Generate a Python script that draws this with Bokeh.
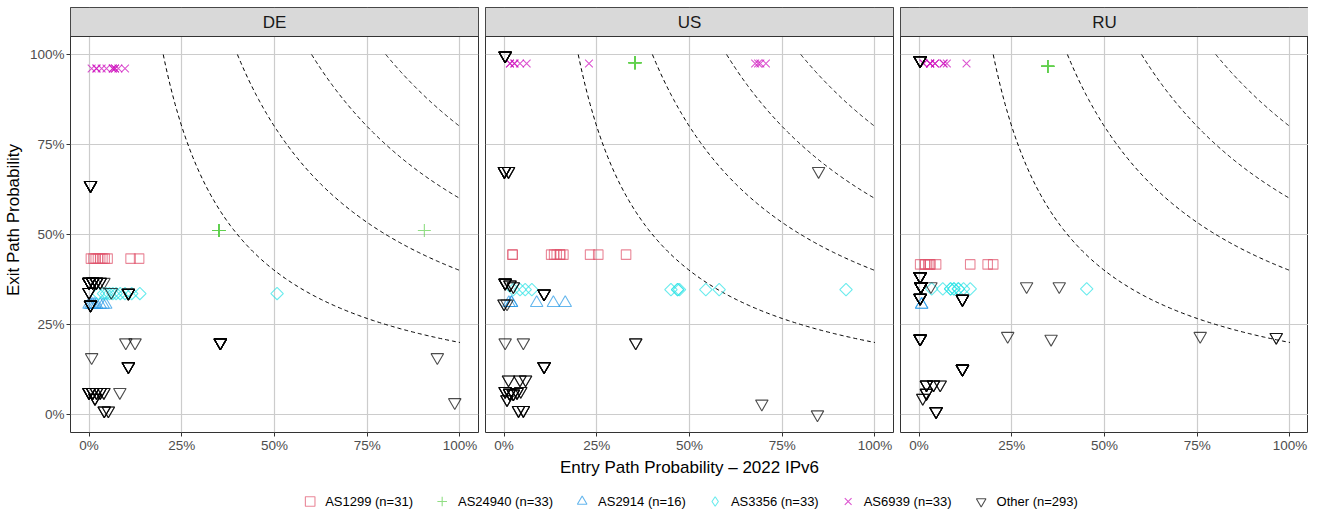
import numpy as np
from bokeh.plotting import figure
from bokeh.layouts import column, row
from bokeh.models import (Range1d, FixedTicker, NumeralTickFormatter, BoxAnnotation,
                          Label, Legend, LegendItem)
from bokeh.embed import file_html
from bokeh.resources import INLINE

# ---------------- data ----------------
panels = ["DE", "US", "RU"]
axis_ticks = [0, 0.25, 0.5, 0.75, 1.0]
iso_levels = [0.2, 0.4, 0.6, 0.8]

series_names = ["AS1299", "AS24940", "AS2914", "AS3356", "AS6939", "Other"]
series_counts = [31, 33, 16, 33, 33, 293]

# AS1299
AS1299_DE_x = [0.005, 0.012, 0.018, 0.024, 0.03, 0.036, 0.042, 0.05, 0.112, 0.135]
AS1299_DE_y = [0.433, 0.433, 0.433, 0.433, 0.433, 0.433, 0.433, 0.433, 0.433, 0.433]
AS1299_US_x = [0.023, 0.023, 0.127, 0.135, 0.142, 0.151, 0.16, 0.232, 0.254, 0.329, 0.151]
AS1299_US_y = [0.444, 0.444, 0.444, 0.444, 0.444, 0.444, 0.444, 0.444, 0.444, 0.444, 0.444]
AS1299_RU_x = [0.003, 0.016, 0.025, 0.03, 0.046, 0.138, 0.185, 0.2, 0.016, 0.03]
AS1299_RU_y = [0.417, 0.417, 0.417, 0.417, 0.417, 0.417, 0.417, 0.417, 0.417, 0.417]

# AS24940
AS24940_DE_x = [0.35, 0.35, 0.35, 0.35, 0.35, 0.35, 0.35, 0.35, 0.35, 0.35, 0.904]
AS24940_DE_y = [0.511, 0.511, 0.511, 0.511, 0.511, 0.511, 0.511, 0.511, 0.511, 0.511, 0.511]
AS24940_US_x = [0.353, 0.353, 0.353, 0.353, 0.353, 0.353, 0.353, 0.353, 0.353, 0.353, 0.353]
AS24940_US_y = [0.977, 0.977, 0.977, 0.977, 0.977, 0.977, 0.977, 0.977, 0.977, 0.977, 0.977]
AS24940_RU_x = [0.347, 0.347, 0.347, 0.347, 0.347, 0.347, 0.347, 0.347, 0.347, 0.347, 0.347]
AS24940_RU_y = [0.967, 0.967, 0.967, 0.967, 0.967, 0.967, 0.967, 0.967, 0.967, 0.967, 0.967]

# AS2914
AS2914_DE_x = [0.0, 0.005, 0.01, 0.015, 0.02, 0.03, 0.038, 0.045]
AS2914_DE_y = [0.305, 0.305, 0.305, 0.305, 0.305, 0.305, 0.305, 0.305]
AS2914_US_x = [0.013, 0.02, 0.02, 0.088, 0.133, 0.165]
AS2914_US_y = [0.31, 0.31, 0.31, 0.31, 0.31, 0.31]
AS2914_RU_x = [0.007, 0.007]
AS2914_RU_y = [0.305, 0.305]

# AS3356
AS3356_DE_x = [0.025, 0.039, 0.047, 0.055, 0.064, 0.073, 0.084, 0.097, 0.115, 0.137, 0.507]
AS3356_DE_y = [0.336, 0.336, 0.336, 0.336, 0.336, 0.336, 0.336, 0.336, 0.336, 0.336, 0.336]
AS3356_US_x = [0.025, 0.043, 0.057, 0.075, 0.45, 0.468, 0.473, 0.544, 0.58, 0.922, 0.468]
AS3356_US_y = [0.347, 0.347, 0.347, 0.347, 0.347, 0.347, 0.347, 0.347, 0.347, 0.347, 0.347]
AS3356_RU_x = [0.034, 0.064, 0.085, 0.094, 0.106, 0.12, 0.138, 0.452, 0.094, 0.106, 0.085]
AS3356_RU_y = [0.349, 0.349, 0.349, 0.349, 0.349, 0.349, 0.349, 0.349, 0.349, 0.349, 0.349]

# AS6939
AS6939_DE_x = [0.007, 0.02, 0.034, 0.047, 0.064, 0.07, 0.079, 0.097, 0.064, 0.07, 0.02]
AS6939_DE_y = [0.961, 0.961, 0.961, 0.961, 0.961, 0.961, 0.961, 0.961, 0.961, 0.961, 0.961]
AS6939_US_x = [0.016, 0.016, 0.028, 0.043, 0.061, 0.229, 0.677, 0.685, 0.691, 0.706, 0.028]
AS6939_US_y = [0.975, 0.975, 0.975, 0.975, 0.975, 0.975, 0.975, 0.975, 0.975, 0.975, 0.975]
AS6939_RU_x = [0.012, 0.03, 0.03, 0.043, 0.043, 0.066, 0.075, 0.128, 0.012, 0.03, 0.066]
AS6939_RU_y = [0.975, 0.975, 0.975, 0.975, 0.975, 0.975, 0.975, 0.975, 0.975, 0.975, 0.975]

# Other (x, y, number of coinciding observations)
Other_DE_x = [0.004, 0.0, 0.01, 0.02, 0.03, 0.04, 0.0, 0.06, 0.106, 0.004, 0.099, 0.124, 0.354,
              0.007, 0.106, 0.939, 0.986, 0.0, 0.01, 0.02, 0.03, 0.04, 0.083, 0.016, 0.041, 0.052]
Other_DE_y = [0.637, 0.368, 0.368, 0.368, 0.368, 0.368, 0.34, 0.34, 0.338, 0.305, 0.2, 0.2, 0.2,
              0.159, 0.134, 0.159, 0.034, 0.062, 0.062, 0.062, 0.062, 0.062, 0.062, 0.046, 0.011, 0.011]
Other_DE_n = [8, 10, 8, 6, 3, 1, 5, 1, 6, 6, 1, 1, 8,
              1, 6, 1, 1, 6, 5, 3, 3, 2, 1, 4, 3, 2]

Other_US_x = [0.003, 0.001, 0.012, 0.848, 0.003, 0.016, 0.025, 0.108, 0.0, 0.008, 0.003, 0.052,
              0.355, 0.108, 0.012, 0.043, 0.058, 0.003, 0.015, 0.025, 0.035, 0.045, 0.008,
              0.039, 0.052, 0.695, 0.845]
Other_US_y = [0.997, 0.676, 0.676, 0.676, 0.366, 0.361, 0.356, 0.336, 0.308, 0.308, 0.2, 0.2,
              0.2, 0.134, 0.097, 0.097, 0.097, 0.065, 0.06, 0.058, 0.062, 0.065, 0.042,
              0.012, 0.012, 0.03, 0.0]
Other_US_n = [8, 6, 3, 1, 6, 3, 2, 6, 2, 1, 1, 1,
              2, 6, 2, 2, 2, 4, 5, 4, 3, 2, 3,
              3, 3, 1, 1]

Other_RU_x = [0.003, 0.003, 0.005, 0.003, 0.032, 0.117, 0.29, 0.378, 0.003, 0.239, 0.356, 0.758,
              0.963, 0.117, 0.02, 0.039, 0.057, 0.02, 0.01, 0.046]
Other_RU_y = [0.984, 0.384, 0.356, 0.324, 0.356, 0.321, 0.356, 0.356, 0.211, 0.218, 0.21, 0.218,
              0.215, 0.127, 0.083, 0.083, 0.083, 0.06, 0.046, 0.009]
Other_RU_n = [10, 12, 20, 10, 1, 8, 1, 1, 10, 1, 1, 1,
              2, 10, 4, 3, 2, 4, 2, 5]

# ---------------- styles ----------------
series_colors = ["#DF536B", "#61D04F", "#2297E6", "#28E2E5", "#CD0BBC", "#000000"]
series_markers = ["square", "cross", "triangle", "square", "x", "inverted_triangle"]
legend_markers = ["square", "cross", "triangle", "diamond", "x", "inverted_triangle"]
series_sizes = [9.5, 13, 12.5, 8.8, 11, 12.5]
series_angles = [0, 0, 0, np.pi / 4, 0, 0]
ALPHA = 0.7
FONT = "Liberation Sans"

data = {
    "DE": [(AS1299_DE_x, AS1299_DE_y), (AS24940_DE_x, AS24940_DE_y), (AS2914_DE_x, AS2914_DE_y),
           (AS3356_DE_x, AS3356_DE_y), (AS6939_DE_x, AS6939_DE_y),
           (np.repeat(Other_DE_x, Other_DE_n), np.repeat(Other_DE_y, Other_DE_n))],
    "US": [(AS1299_US_x, AS1299_US_y), (AS24940_US_x, AS24940_US_y), (AS2914_US_x, AS2914_US_y),
           (AS3356_US_x, AS3356_US_y), (AS6939_US_x, AS6939_US_y),
           (np.repeat(Other_US_x, Other_US_n), np.repeat(Other_US_y, Other_US_n))],
    "RU": [(AS1299_RU_x, AS1299_RU_y), (AS24940_RU_x, AS24940_RU_y), (AS2914_RU_x, AS2914_RU_y),
           (AS3356_RU_x, AS3356_RU_y), (AS6939_RU_x, AS6939_RU_y),
           (np.repeat(Other_RU_x, Other_RU_n), np.repeat(Other_RU_y, Other_RU_n))],
}

STRIP_PX = 29
FRAME_H = 396
FRAME_W = 408
Y_PER_PX = 1.1 / FRAME_H
Y_TOP = 1.05 + STRIP_PX * Y_PER_PX


def make_panel(name, first, middle, mbl, mbr):
    p = figure(frame_width=FRAME_W, frame_height=FRAME_H + STRIP_PX,
               x_range=Range1d(-0.05, 1.05), y_range=Range1d(-0.05, Y_TOP),
               output_backend="svg", toolbar_location=None,
               y_axis_location="left" if first else None,
               min_border_left=mbl, min_border_right=mbr,
               min_border_top=7, min_border_bottom=42)
    p.outline_line_color = "#333333"
    p.outline_line_width = 1
    p.background_fill_color = "white"
    p.border_fill_color = "white"

    tick = FixedTicker(ticks=axis_ticks, minor_ticks=[])
    for g in p.xgrid + p.ygrid:
        g.ticker = tick
        g.grid_line_color = "#CCCCCC"
        g.grid_line_width = 1.2
        g.minor_grid_line_color = None

    axes = list(p.xaxis) + (list(p.yaxis) if first else [])
    for ax in axes:
        ax.ticker = tick
        ax.formatter = NumeralTickFormatter(format="0%")
        ax.axis_line_color = None
        ax.major_tick_line_color = "#333333"
        ax.major_tick_out = 4
        ax.major_tick_in = 0
        ax.minor_tick_line_color = None
        ax.major_label_text_font = FONT
        ax.major_label_text_font_size = "13.5px"
        ax.major_label_text_color = "#4D4D4D"
        ax.axis_label_text_font = FONT
        ax.axis_label_text_font_size = "17px"
        ax.axis_label_text_font_style = "normal"
        ax.axis_label_text_color = "black"
    p.xaxis.major_label_standoff = 1
    if first:
        p.yaxis.major_label_standoff = 2
        p.yaxis.axis_label = "Exit Path Probability"
        p.yaxis.axis_label_standoff = 4
    if middle:
        p.xaxis.axis_label = "Entry Path Probability \u2013 2022 IPv6"
        p.xaxis.axis_label_standoff = 2

    # iso-probability reference curves x*y = c
    for c in iso_levels:
        xs = np.linspace(c, 1.0, 200)
        p.line(xs, c / xs, line_color="black", line_width=1, line_dash="4 3")

    for i, (xs, ys) in enumerate(data[name]):
        p.scatter(x=list(xs), y=list(ys), marker=series_markers[i], size=series_sizes[i],
                  angle=series_angles[i], fill_color=None, line_color=series_colors[i],
                  line_alpha=ALPHA, line_width=1.1)

    strip = BoxAnnotation(bottom=1.05, fill_color="#D9D9D9", fill_alpha=1.0,
                          line_color="#333333", line_width=1, line_alpha=1.0)
    p.add_layout(strip)
    p.add_layout(Label(x=0.5, y=1.05 + STRIP_PX * Y_PER_PX / 2, text=name,
                       text_align="center", text_baseline="middle",
                       text_font=FONT, text_font_size="17px", text_color="#1A1A1A"))
    return p


p1 = make_panel("DE", True, False, 67, 7)
p2 = make_panel("US", False, True, 0, 7)
p3 = make_panel("RU", False, False, 0, 0)

# legend strip
pl = figure(frame_width=1235, frame_height=34, x_range=Range1d(0, 1), y_range=Range1d(0, 1),
            output_backend="svg", toolbar_location=None, x_axis_location=None,
            y_axis_location=None, min_border_left=70, min_border_right=0,
            min_border_top=0, min_border_bottom=0)
pl.outline_line_color = None
pl.xgrid.visible = False
pl.ygrid.visible = False
items = []
for i, nm in enumerate(series_names):
    r = pl.scatter(x=[-10], y=[-10], marker=legend_markers[i], size=series_sizes[i],
                   fill_color=None, line_color=series_colors[i],
                   line_alpha=ALPHA, line_width=1.1)
    items.append(LegendItem(label=f"{nm} (n={series_counts[i]})", renderers=[r]))
leg = Legend(items=items, orientation="horizontal", location="bottom_center",
             label_text_font=FONT, label_text_font_size="13px", label_text_color="black",
             glyph_width=24, glyph_height=24, label_height=24, label_standoff=4, spacing=17,
             padding=0, margin=0, border_line_color=None, background_fill_alpha=0)
pl.add_layout(leg, "center")

layout = column(row(p1, p2, p3), pl)

open("out.html", "w").write(file_html(layout, INLINE))
